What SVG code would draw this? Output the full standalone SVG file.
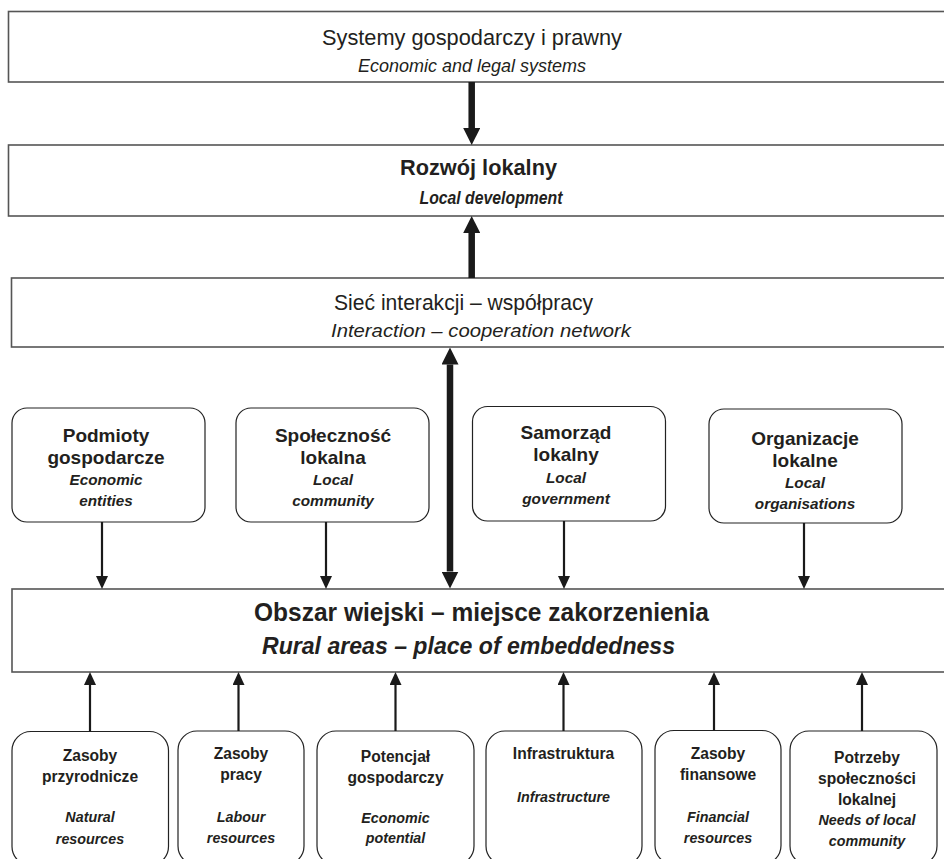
<svg xmlns="http://www.w3.org/2000/svg" width="944" height="859" viewBox="0 0 944 859">
<defs>
<style>
.box{fill:#fff;stroke:#555;stroke-width:1.6}
.rbox{fill:#fff;stroke:#222;stroke-width:1.2}
text{font-family:"Liberation Sans",Arial,sans-serif;fill:#231f20;text-anchor:middle}
.b{font-weight:bold}
.i{font-style:italic}
.thick{stroke:#1a1a1a;stroke-width:6.5;fill:none}
.thin{stroke:#1a1a1a;stroke-width:2.2;fill:none}
.mb{font-size:19px;font-weight:bold}
.mi{font-size:15.3px;font-weight:bold;font-style:italic}
.sb{font-size:15.6px;font-weight:bold}
.si{font-size:14.3px;font-weight:bold;font-style:italic}
</style>
<marker id="hb" viewBox="0 0 10 10" refX="0" refY="5" markerWidth="17" markerHeight="17" markerUnits="userSpaceOnUse" orient="auto-start-reverse"><path d="M0,0 L10,5 L0,10 z" fill="#1a1a1a"/></marker>
<marker id="hs" viewBox="0 0 10 10" refX="0" refY="5" markerWidth="13" markerHeight="12" markerUnits="userSpaceOnUse" orient="auto-start-reverse" preserveAspectRatio="none"><path d="M0,0 L10,5 L0,10 z" fill="#1a1a1a"/></marker>
</defs>
<rect width="944" height="859" fill="#fff"/>

<g id="systems">
<rect class="box" x="8.5" y="11.5" width="945" height="70.5"/>
<text x="472" y="45" font-size="22.5" textLength="300" lengthAdjust="spacingAndGlyphs">Systemy gospodarczy i prawny</text>
<text class="i" x="472" y="72" font-size="19" textLength="228" lengthAdjust="spacingAndGlyphs">Economic and legal systems</text>
</g>

<g id="local-development">
<rect class="box" x="8.5" y="145" width="945" height="71"/>
<text class="b" x="478.5" y="175" font-size="22.5" textLength="157" lengthAdjust="spacingAndGlyphs">Rozwój lokalny</text>
<text class="b i" x="491" y="204" font-size="17.5" textLength="143" lengthAdjust="spacingAndGlyphs">Local development</text>
</g>

<g id="network">
<rect class="box" x="11.5" y="278" width="945" height="69"/>
<text x="463.5" y="310" font-size="22.5" textLength="259" lengthAdjust="spacingAndGlyphs">Sieć interakcji – współpracy</text>
<text class="i" x="481" y="337" font-size="19" textLength="300" lengthAdjust="spacingAndGlyphs">Interaction – cooperation network</text>
</g>

<g id="rural">
<rect class="box" x="12" y="589" width="945" height="83"/>
<text class="b" x="481.5" y="621" font-size="26" textLength="455" lengthAdjust="spacingAndGlyphs">Obszar wiejski – miejsce zakorzenienia</text>
<text class="b i" x="468.5" y="654" font-size="24.5" textLength="413" lengthAdjust="spacingAndGlyphs">Rural areas – place of embeddedness</text>
</g>

<g id="economic-entities">
<rect class="rbox" x="12" y="408" width="193" height="114" rx="15"/>
<text class="mb" x="106" y="442">Podmioty</text>
<text class="mb" x="106" y="464">gospodarcze</text>
<text class="mi" x="106" y="485">Economic</text>
<text class="mi" x="106" y="506">entities</text>
</g>

<g id="local-community">
<rect class="rbox" x="236" y="408" width="193" height="114" rx="15"/>
<text class="mb" x="333" y="442">Społeczność</text>
<text class="mb" x="333" y="464">lokalna</text>
<text class="mi" x="333" y="485">Local</text>
<text class="mi" x="333" y="506">community</text>
</g>

<g id="local-government">
<rect class="rbox" x="472.5" y="406.5" width="193" height="114.5" rx="15"/>
<text class="mb" x="566" y="439">Samorząd</text>
<text class="mb" x="566" y="461">lokalny</text>
<text class="mi" x="566" y="483">Local</text>
<text class="mi" x="566" y="504">government</text>
</g>

<g id="local-organisations">
<rect class="rbox" x="709" y="409" width="193" height="114" rx="15"/>
<text class="mb" x="805" y="445">Organizacje</text>
<text class="mb" x="805" y="467">lokalne</text>
<text class="mi" x="805" y="488">Local</text>
<text class="mi" x="805" y="509">organisations</text>
</g>

<g id="natural-resources">
<rect class="rbox" x="12" y="731.5" width="156.5" height="134" rx="19"/>
<text class="sb" x="90" y="761">Zasoby</text>
<text class="sb" x="90" y="782">przyrodnicze</text>
<text class="si" x="90" y="822">Natural</text>
<text class="si" x="90" y="844">resources</text>
</g>

<g id="labour-resources">
<rect class="rbox" x="178" y="731" width="126" height="134" rx="19"/>
<text class="sb" x="241" y="759">Zasoby</text>
<text class="sb" x="241" y="780">pracy</text>
<text class="si" x="241" y="822">Labour</text>
<text class="si" x="241" y="843">resources</text>
</g>

<g id="economic-potential">
<rect class="rbox" x="317" y="731" width="157" height="134" rx="19"/>
<text class="sb" x="395.5" y="762">Potencjał</text>
<text class="sb" x="395.5" y="783">gospodarczy</text>
<text class="si" x="395.5" y="823">Economic</text>
<text class="si" x="395.5" y="843">potential</text>
</g>

<g id="infrastructure">
<rect class="rbox" x="486" y="731" width="156" height="134" rx="19"/>
<text class="sb" x="563.5" y="759">Infrastruktura</text>
<text class="si" x="563.5" y="802">Infrastructure</text>
</g>

<g id="financial-resources">
<rect class="rbox" x="655" y="730.5" width="126" height="134" rx="19"/>
<text class="sb" x="718" y="759">Zasoby</text>
<text class="sb" x="718" y="780">finansowe</text>
<text class="si" x="718" y="822">Financial</text>
<text class="si" x="718" y="843">resources</text>
</g>

<g id="community-needs">
<rect class="rbox" x="790" y="731" width="147" height="134" rx="19"/>
<text class="sb" x="867" y="763">Potrzeby</text>
<text class="sb" x="867" y="784">społeczności</text>
<text class="sb" x="867" y="805">lokalnej</text>
<text class="si" x="867" y="825">Needs of local</text>
<text class="si" x="867" y="846">community</text>
</g>

<g id="connectors">
<line class="thick" x1="471.7" y1="82" x2="471.7" y2="128" marker-end="url(#hb)"/>
<line class="thick" x1="471.7" y1="278" x2="471.7" y2="233" marker-end="url(#hb)"/>
<line class="thick" x1="450" y1="364.5" x2="450" y2="571.5" marker-start="url(#hb)" marker-end="url(#hb)"/>
<line class="thin" x1="102" y1="522" x2="102" y2="576" marker-end="url(#hs)"/>
<line class="thin" x1="326" y1="522" x2="326" y2="576" marker-end="url(#hs)"/>
<line class="thin" x1="564" y1="521" x2="564" y2="576" marker-end="url(#hs)"/>
<line class="thin" x1="804" y1="523" x2="804" y2="576" marker-end="url(#hs)"/>
<line class="thin" x1="90" y1="731.5" x2="90" y2="685" marker-end="url(#hs)"/>
<line class="thin" x1="238.5" y1="731" x2="238.5" y2="685" marker-end="url(#hs)"/>
<line class="thin" x1="395.5" y1="731" x2="395.5" y2="685" marker-end="url(#hs)"/>
<line class="thin" x1="563.5" y1="731" x2="563.5" y2="685" marker-end="url(#hs)"/>
<line class="thin" x1="714" y1="730.5" x2="714" y2="685" marker-end="url(#hs)"/>
<line class="thin" x1="862" y1="731" x2="862" y2="685" marker-end="url(#hs)"/>
</g>
</svg>
